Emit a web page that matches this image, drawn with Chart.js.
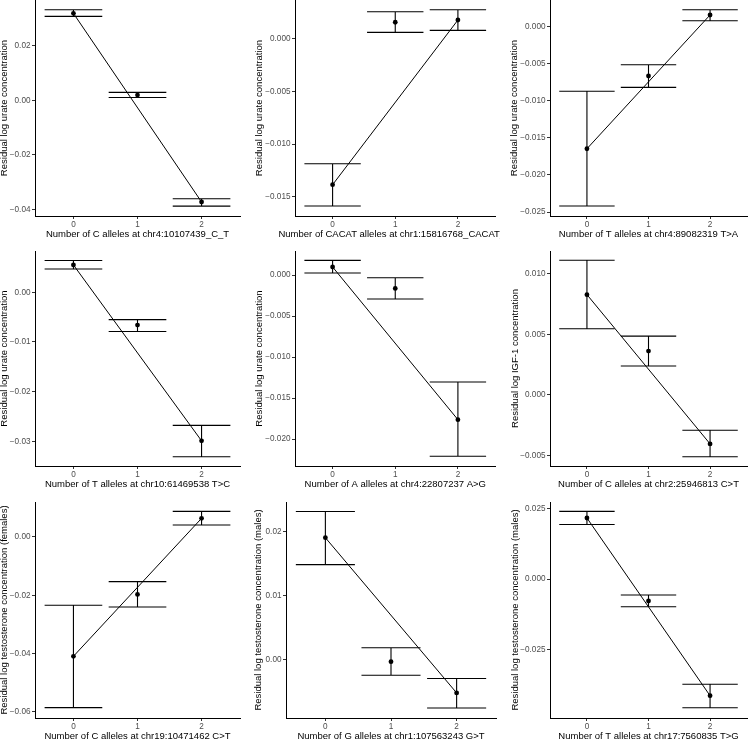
<!DOCTYPE html>
<html>
<head>
<meta charset="utf-8">
<script src="https://cdn.jsdelivr.net/npm/chart.js@4"></script>
<style>
  html, body { margin: 0; padding: 0; background: #fff; overflow: hidden; }
  #grid { position: relative; width: 751px; height: 740px; overflow: hidden; }
  #grid canvas { position: absolute; }
</style>
</head>
<body>
<div id="grid"></div>
<script>
// genotype classes on the x axis
const genotypes = [0, 1, 2];
const xTickLabels = ['0', '1', '2'];

const xTitles = [
  'Number of C alleles at chr4:10107439_C_T',
  'Number of CACAT alleles at chr1:15816768_CACAT_C',
  'Number of T alleles at chr4:89082319 T>A',
  'Number of T alleles at chr10:61469538 T>C',
  'Number of A alleles at chr4:22807237 A>G',
  'Number of C alleles at chr2:25946813 C>T',
  'Number of C alleles at chr19:10471462 C>T',
  'Number of G alleles at chr1:107563243 G>T',
  'Number of T alleles at chr17:7560835 T>G',
];
const yTitles = [
  'Residual log urate concentration',
  'Residual log urate concentration',
  'Residual log urate concentration',
  'Residual log urate concentration',
  'Residual log urate concentration',
  'Residual log IGF-1 concentration',
  'Residual log testosterone concentration (females)',
  'Residual log testosterone concentration (males)',
  'Residual log testosterone concentration (males)',
];

// mean, lower and upper bar per genotype
const p1Mean = [0.0318, 0.0019, -0.0372];
const p1Lo   = [0.0307, 0.0010, -0.0387];
const p1Hi   = [0.0331, 0.0029, -0.0360];
const p1Ticks = [0.02, 0, -0.02, -0.04];

const p2Mean = [-0.01386, 0.00156, 0.00177];
const p2Lo   = [-0.01588, 0.00060, 0.00079];
const p2Hi   = [-0.01187, 0.00256, 0.00275];
const p2Ticks = [0, -0.005, -0.010, -0.015];

const p3Mean = [-0.01646, -0.00665, 0.00158];
const p3Lo   = [-0.02419, -0.00818, 0.00081];
const p3Hi   = [-0.00871, -0.00513, 0.00229];
const p3Ticks = [0, -0.005, -0.010, -0.015, -0.020, -0.025];

const p4Mean = [0.0055, -0.0066, -0.0299];
const p4Lo   = [0.0047, -0.0079, -0.0331];
const p4Hi   = [0.0064, -0.0055, -0.0268];
const p4Ticks = [0, -0.01, -0.02, -0.03];

const p5Mean = [0.00098, -0.00163, -0.01764];
const p5Lo   = [0.00024, -0.00293, -0.02211];
const p5Hi   = [0.00179, -0.00033, -0.01305];
const p5Ticks = [0, -0.005, -0.010, -0.015, -0.020];

const p6Mean = [0.00829, 0.00362, -0.00406];
const p6Lo   = [0.00547, 0.00238, -0.00512];
const p6Hi   = [0.01114, 0.00486, -0.00293];
const p6Ticks = [0.010, 0.005, 0, -0.005];

const p7Mean = [-0.0409, -0.0197, 0.0064];
const p7Lo   = [-0.0585, -0.0240, 0.0041];
const p7Hi   = [-0.0234, -0.0153, 0.0088];
const p7Ticks = [0, -0.02, -0.04, -0.06];

const p8Mean = [0.0190, -0.00037, -0.00525];
const p8Lo   = [0.0148, -0.0025, -0.0076];
const p8Hi   = [0.0231, 0.0018, -0.0030];
const p8Ticks = [0.02, 0.01, 0];

const p9Mean = [0.02157, -0.00778, -0.04127];
const p9Lo   = [0.0193, -0.00979, -0.04551];
const p9Hi   = [0.0239, -0.00566, -0.03724];
const p9Ticks = [0.025, 0, -0.025];

// grid placement (rows / columns of the 3x3 figure); top row is cut off by the frame
const ROWS = [
  { top: -6,  h: 246, padTop: 6,  axisH: 24 },
  { top: 245, h: 245, padTop: 6,  axisH: 24 },
  { top: 490, h: 250, padTop: 12, axisH: 22 },
];
const COLS = [{ x: 0, w: 250 }, { x: 250, w: 250 }, { x: 500, w: 251 }];

const PANELS = [
  { mean: p1Mean, lo: p1Lo, hi: p1Hi, ticks: p1Ticks, dec: 2, min: -0.04233, max: 0.03669, left: 35, right: 240, yTitleX: 4.5 },
  { mean: p2Mean, lo: p2Lo, hi: p2Hi, ticks: p2Ticks, dec: 3, min: -0.01683, max: 0.00367, left: 45, right: 245.5, yTitleX: 9 },
  { mean: p3Mean, lo: p3Lo, hi: p3Hi, ticks: p3Ticks, dec: 3, min: -0.02553, max: 0.0036, left: 50, right: 251, yTitleX: 14.5 },
  { mean: p4Mean, lo: p4Lo, hi: p4Hi, ticks: p4Ticks, dec: 2, min: -0.03497, max: 0.00831, left: 35, right: 240, yTitleX: 4.5 },
  { mean: p5Mean, lo: p5Lo, hi: p5Hi, ticks: p5Ticks, dec: 3, min: -0.02329, max: 0.00293, left: 45, right: 245.5, yTitleX: 9 },
  { mean: p6Mean, lo: p6Lo, hi: p6Hi, ticks: p6Ticks, dec: 3, min: -0.00589, max: 0.0119, left: 50, right: 251, yTitleX: 15 },
  { mean: p7Mean, lo: p7Lo, hi: p7Hi, ticks: p7Ticks, dec: 2, min: -0.06206, max: 0.0120, left: 35, right: 240, yTitleX: 4.5 },
  { mean: p8Mean, lo: p8Lo, hi: p8Hi, ticks: p8Ticks, dec: 2, min: -0.00917, max: 0.02458, left: 36, right: 246, yTitleX: 8 },
  { mean: p9Mean, lo: p9Lo, hi: p9Hi, ticks: p9Ticks, dec: 3, min: -0.04915, max: 0.02723, left: 50, right: 251, yTitleX: 15 },
];

const FONT = "'Liberation Sans', Arial, Helvetica, sans-serif";
const TICK_FONT = { family: FONT, size: 8.2, lineHeight: 1 };
const CAP_HALF = 0.45; // geom_errorbar default width 0.9

function fmtTick(v, dec) {
  const s = Math.abs(v).toFixed(dec);
  return v < -1e-12 ? '\u2212' + s : s;
}

function makePanel(p, idx) {
  const row = ROWS[Math.floor(idx / 3)];
  const col = COLS[idx % 3];
  const canvas = document.createElement('canvas');
  canvas.width = col.w;
  canvas.height = row.h;
  canvas.style.left = col.x + 'px';
  canvas.style.top = row.top + 'px';
  document.getElementById('grid').appendChild(canvas);

  // error bars with wide caps, drawn under the points
  const errorBars = {
    id: 'errorBars' + idx,
    beforeDatasetsDraw(chart) {
      const { ctx, scales: { x, y } } = chart;
      ctx.save();
      ctx.strokeStyle = '#000';
      ctx.lineWidth = 1.1;
      genotypes.forEach((g, i) => {
        const px = x.getPixelForValue(g);
        const yl = y.getPixelForValue(p.lo[i]);
        const yh = y.getPixelForValue(p.hi[i]);
        const xl = x.getPixelForValue(g - CAP_HALF);
        const xr = x.getPixelForValue(g + CAP_HALF);
        ctx.beginPath();
        ctx.moveTo(px, yl); ctx.lineTo(px, yh);
        ctx.moveTo(xl, yl); ctx.lineTo(xr, yl);
        ctx.moveTo(xl, yh); ctx.lineTo(xr, yh);
        ctx.stroke();
      });
      ctx.restore();
    }
  };

  // axis titles (x title may run past the panel edge and gets clipped, like the original)
  const axisTitles = {
    id: 'axisTitles' + idx,
    afterDraw(chart) {
      const { ctx, chartArea: a } = chart;
      ctx.save();
      ctx.fillStyle = '#000';
      ctx.font = '9.5px ' + FONT;
      ctx.textAlign = 'center';
      ctx.textBaseline = 'middle';
      ctx.fillText(xTitles[idx], (a.left + a.right) / 2, a.bottom + 18);
      ctx.translate(p.yTitleX, (a.top + a.bottom) / 2);
      ctx.rotate(-Math.PI / 2);
      ctx.fillText(yTitles[idx], 0, 0);
      ctx.restore();
    }
  };

  new Chart(canvas, {
    type: 'scatter',
    data: {
      datasets: [
        {
          data: genotypes.map((g, i) => ({ x: g, y: p.mean[i] })),
          backgroundColor: '#000',
          borderColor: '#000',
          pointRadius: 2.4,
          borderWidth: 0,
        },
        {
          type: 'line',
          data: [{ x: genotypes[0], y: p.mean[0] }, { x: genotypes[2], y: p.mean[2] }],
          borderColor: '#000',
          borderWidth: 1,
          pointRadius: 0,
          fill: false,
        },
      ],
    },
    options: {
      responsive: false,
      animation: false,
      events: [],
      layout: { padding: { top: row.padTop, left: 0, bottom: 0, right: col.w - p.right } },
      plugins: { legend: { display: false }, tooltip: { enabled: false } },
      scales: {
        x: {
          type: 'linear',
          min: -0.6,
          max: 2.6,
          afterBuildTicks: s => { s.ticks = genotypes.map(v => ({ value: v })); },
          afterFit: s => { s.height = row.axisH; s.paddingLeft = 0; s.paddingRight = 0; },
          ticks: {
            callback: v => xTickLabels[v],
            font: TICK_FONT,
            color: '#4d4d4d',
            padding: 1.5,
            maxRotation: 0,
            autoSkip: false,
          },
          grid: { drawOnChartArea: false, tickLength: 3, color: '#333' },
          border: { color: '#000', width: 1 },
        },
        y: {
          type: 'linear',
          min: p.min,
          max: p.max,
          afterBuildTicks: s => { s.ticks = p.ticks.map(v => ({ value: v })); },
          afterFit: s => { s.width = p.left; s.paddingTop = 0; s.paddingBottom = 0; },
          ticks: {
            callback: v => fmtTick(v, p.dec),
            font: TICK_FONT,
            color: '#4d4d4d',
            padding: 1.5,
            autoSkip: false,
          },
          grid: { drawOnChartArea: false, tickLength: 3, color: '#333' },
          border: { color: '#000', width: 1 },
        },
      },
    },
    plugins: [errorBars, axisTitles],
  });
}

PANELS.forEach(makePanel);
</script>
</body>
</html>
